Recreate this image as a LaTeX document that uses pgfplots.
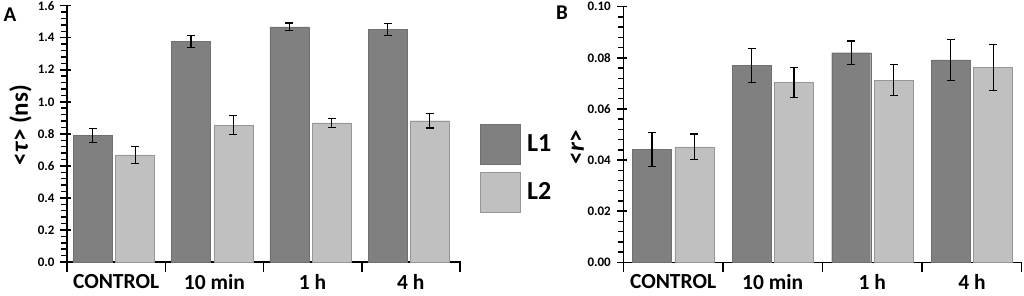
\documentclass[border=0pt]{standalone}
\usepackage{fontspec}
\setmainfont{Carlito}
\usepackage{pgfplots}
\pgfplotsset{compat=1.18}
\usepackage{pgfplotstable}
\definecolor{cA}{RGB}{128,128,128}
\definecolor{cAd}{RGB}{112,112,112}
\definecolor{cB}{RGB}{192,192,192}
\definecolor{cBd}{RGB}{150,150,150}

\pgfplotstableread{
x L1 e1 L2 e2
0 0.790 0.045 0.668 0.053
1 1.377 0.037 0.855 0.058
2 1.468 0.024 0.868 0.026
3 1.452 0.037 0.882 0.046
}\tauA
\pgfplotstableread{
x L1 e1 L2 e2
0 0.0442 0.0066 0.0452 0.0050
1 0.0771 0.0067 0.0704 0.0058
2 0.0820 0.0046 0.0713 0.0060
3 0.0792 0.0080 0.0762 0.0089
}\rB

\pgfplotsset{
 panel/.style={
  scale only axis, ybar, bar width=39pt,
  xmin=-0.5, xmax=3.5, ymin=0,
  axis x line*=bottom, axis y line*=left,
  axis line style={-, line width=1.3pt, black},
  xtick={-0.5,0.5,1.5,2.5,3.5},
  xticklabels={CONTROL,10 min,1 h,4 h,},
  xticklabel style={font=\fontsize{21.5}{24}\selectfont\bfseries},
  yticklabel style={font=\fontsize{13}{15}\selectfont\bfseries},
  /pgf/number format/assume math mode=true,
  tick align=outside, major tick length=9pt, minor tick length=5pt,
  tick style={line width=1.5pt, draw=black, line cap=rect},
  every major y tick/.append style={xshift=3pt},
  minor y tick num=4,
  clip=false,
 },
 err/.style={error bars/.cd, y dir=both, y explicit,
   error bar style={line width=1.2pt, black},
   error mark options={rotate=90, mark size=4pt, line width=1.2pt, black}},
}

\begin{document}
\begin{tikzpicture}
\begin{axis}[panel,
  at={(67pt,33pt)}, anchor=south west,
  width=393pt, height=256.3pt,
  ymax=1.6, ytick={0,0.2,0.4,0.6,0.8,1.0,1.2,1.4,1.6},
  yticklabel style={/pgf/number format/.cd, fixed, fixed zerofill, precision=1},
  xticklabel style={xshift=49.1pt},
  ylabel={<\textit{τ}> (ns)},
  every axis y label/.style={at={(axis description cs:-0.1183,0.534)}, rotate=90, anchor=center, font=\fontsize{25}{30}\selectfont\bfseries},
  legend entries={L1,L2},
  legend style={at={(axis description cs:1,0.541)}, anchor=north west, xshift=20pt,
    draw=none, fill=none, inner sep=0pt, row sep=7pt, column sep=6pt,
    font=\fontsize{26}{30}\selectfont\bfseries, legend cell align=left,
    nodes={inner sep=0pt}},
]
\addplot[fill=cA, draw=cAd, bar shift=-23.3pt, err,
  /pgfplots/legend image code/.code={\draw[fill=cA, draw=cAd, line width=1pt] (0pt,-20pt) rectangle (40pt,20pt);}]
  table[x=x, y=L1, y error=e1] {\tauA};
\addplot[fill=cB, draw=cBd, bar shift=19pt, err,
  /pgfplots/legend image code/.code={\draw[fill=cB, draw=cBd, line width=1pt] (0pt,-20pt) rectangle (40pt,20pt);}]
  table[x=x, y=L2, y error=e2] {\tauA};
\end{axis}

\begin{axis}[panel,
  at={(623.3pt,32.7pt)}, anchor=south west,
  width=398.4pt, height=255.6pt,
  ymax=0.10, ytick={0,0.02,0.04,0.06,0.08,0.10},
  yticklabel style={/pgf/number format/.cd, fixed, fixed zerofill, precision=2},
  xticklabel style={xshift=49.8pt},
  ylabel={<\textit{r}>},
  every axis y label/.style={at={(axis description cs:-0.1162,0.451)}, rotate=90, anchor=center, font=\fontsize{25}{30}\selectfont\bfseries},
]
\addplot[fill=cA, draw=cAd, bar shift=-21.1pt, err]
  table[x=x, y=L1, y error=e1] {\rB};
\addplot[fill=cB, draw=cBd, bar shift=21.2pt, err]
  table[x=x, y=L2, y error=e2] {\rB};
\end{axis}

\node at (10pt,280pt) {\fontsize{21}{24}\selectfont\bfseries A};
\node at (562pt,282pt) {\fontsize{21}{24}\selectfont\bfseries B};

\pgfresetboundingbox
\path (0,0) rectangle (1024pt,295pt);
\end{tikzpicture}
\end{document}
